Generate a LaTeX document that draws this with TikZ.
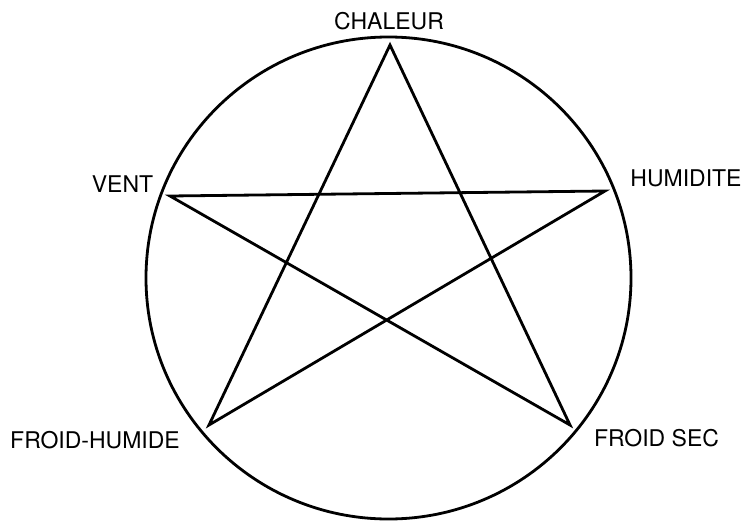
\documentclass[tikz,border=0pt]{standalone}
\usepackage{fontspec}
\setmainfont{TeX Gyre Heros}
\begin{document}
\begin{tikzpicture}[x=1pt,y=-1pt,
  lbl/.style={font=\fontsize{23}{26}\selectfont, inner sep=0pt},
  ln/.style={line width=2.8pt, line join=miter}]
\useasboundingbox (0,0) rectangle (741,522);
\draw[line width=2.8pt] (388.5,278) ellipse (242.5pt and 241pt);
\coordinate (c) at (390,45);
\coordinate (h) at (605,191);
\coordinate (fs) at (570,425);
\coordinate (fh) at (209,425);
\coordinate (v) at (170,196);
\draw[ln] (c) -- (fs) -- (v) -- (h) -- (fh) -- cycle;
\node[lbl] (lc) at (389,21.5) {CHALEUR};
\node[lbl] (lh) at (686,178) {HUMIDITE};
\node[lbl] (lv) at (122.5,184.5) {VENT};
\node[lbl] (lfs) at (656.5,438) {FROID SEC};
\node[lbl] (lfh) at (95,440.5) {FROID-HUMIDE};
\end{tikzpicture}
\end{document}
